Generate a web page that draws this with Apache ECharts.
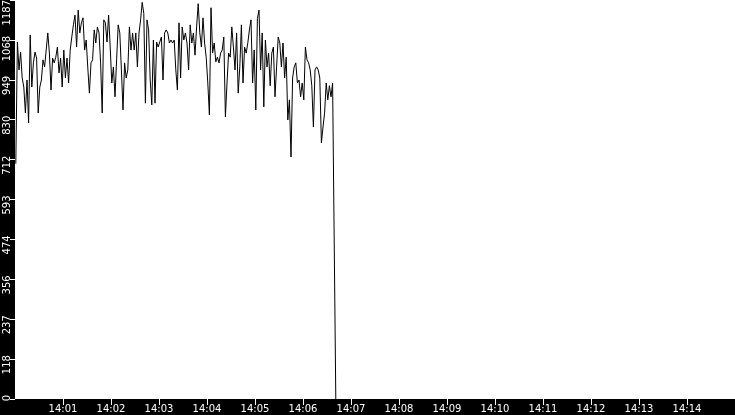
<!DOCTYPE html>
<html><head><meta charset="utf-8">
<script src="https://cdn.jsdelivr.net/npm/echarts@6/dist/echarts.min.js"></script>
<style>html,body{margin:0;padding:0;background:#000}#c{width:735px;height:415px}</style>
</head><body><div id="c"></div>
<script>
// seconds after 14:00:00 of the first sample, and spacing between samples
const startSecond = 1;
const stepSeconds = 2;
const values = [
  700,1062,979,1032,955,928,851,949,821,1083,928,1000,1032,1014,851,928,949,1009,988,1038,
  1089,1029,919,1014,1000,1017,1047,970,1014,928,1038,955,1014,940,1038,1077,1113,1142,1047,1157,
  1089,1119,1134,1038,1068,985,910,1000,1009,1098,1059,1107,
  1089,1000,851,1128,1119,1062,1142,1047,940,988,899,1009,1113,1089,979,860,1000,955,979,1107,
  1038,1089,1038,1089,988,1089,1128,1180,1147,880,1128,1098,949,875,1068,880,1062,1047,1043,1077,
  949,1089,1098,1089,1059,1068,1059,1068,979,919,1119,
  955,1107,1068,1089,1059,979,1113,1059,1089,1023,1107,1176,1089,1047,1134,1059,1017,940,845,1164,
  1029,1059,1003,1017,1000,1029,1038,1077,839,940,1029,1017,1107,1047,979,1089,910,988,1113,940,
  1047,1029,1059,1098,1128,940,1038,860,1132,1157,
  979,1089,869,1068,988,1029,932,1029,1047,899,988,1077,1059,988,1059,955,1017,830,890,720,
  955,988,1000,940,949,899,940,890,1047,1009,1000,979,932,809,979,988,979,955,762,809,
  851,940,890,932,899,940,936,
  0
];
const tickLabels = ['14:00','14:01','14:02','14:03','14:04','14:05','14:06','14:07','14:08','14:09','14:10','14:11','14:12','14:13','14:14','14:15'];
const yMax = 1187;
const yStep = 118.7;

const data = values.map((v, i) => [startSecond + i * stepSeconds, v]);
const labelFont = {color: '#fff', fontFamily: 'DejaVu Sans', fontSize: 10};
const chart = echarts.init(document.getElementById('c'), null, {renderer: 'canvas'});
chart.setOption({
  animation: false,
  backgroundColor: '#000',
  grid: {left: 15, right: 0, top: 0, bottom: 16, show: true, backgroundColor: '#fff', borderWidth: 0,
    containLabel: false, outerBoundsMode: 'none'},
  xAxis: {
    type: 'value', min: 0, max: 900, interval: 60,
    axisLine: {show: false},
    axisTick: {show: true, length: 6, lineStyle: {color: '#fff', width: 1}},
    axisLabel: Object.assign({}, labelFont, {margin: 5,
      showMinLabel: false, showMaxLabel: false,
      formatter: v => tickLabels[Math.round(v / 60)]}),
    splitLine: {show: false}
  },
  yAxis: {
    type: 'value', min: 0, max: yMax, interval: yStep,
    axisLine: {show: false},
    axisTick: {show: true, length: 5, lineStyle: {color: '#fff', width: 1}},
    axisLabel: Object.assign({}, labelFont, {rotate: 90,
      align: 'right', margin: 3, padding: [0, -4, 0, 0],
      formatter: v => {
        const s = String(Math.floor(v + 1e-6));
        return v >= yMax - 1e-6 ? '{top|' + s + '}' : s;
      },
      rich: {top: Object.assign({}, labelFont, {padding: [0, 4, 0, 0]})}}),
    splitLine: {show: false}
  },
  series: [{type: 'line', data: data, showSymbol: false, symbol: 'none',
    lineStyle: {color: '#000', width: 1}, silent: true}]
});
</script></body></html>
